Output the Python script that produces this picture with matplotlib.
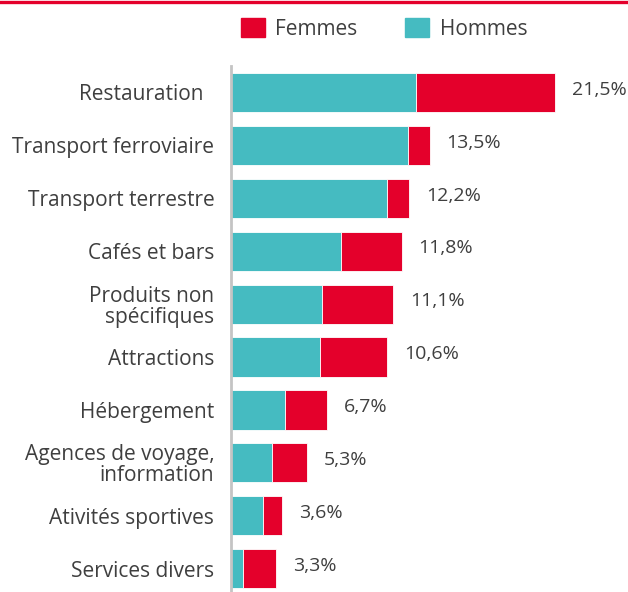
import matplotlib.pyplot as plt
from matplotlib.patches import Patch
from matplotlib.lines import Line2D

# data
categories = ["Restauration  ", "Transport ferroviaire", "Transport terrestre",
              "Cafés et bars", "Produits non\nspécifiques", "Attractions",
              "Hébergement", "Agences de voyage,\ninformation",
              "Ativités sportives", "Services divers"]
hommes = [12.7, 12.1, 10.7, 7.5, 6.2, 6.1, 3.7, 2.8, 2.2, 0.8]
femmes = [9.5, 1.5, 1.5, 4.2, 4.9, 4.6, 2.9, 2.4, 1.3, 2.3]
totals = ["21,5%", "13,5%", "12,2%", "11,8%", "11,1%", "10,6%",
          "6,7%", "5,3%", "3,6%", "3,3%"]

teal = "#45BBC1"
red = "#E4002B"
txt = "#3f3f3f"

plt.rcParams['font.family'] = ['Open Sans', 'DejaVu Sans']

fig = plt.figure(figsize=(6.28, 5.92), dpi=100)
ax = fig.add_axes([231 / 628, 0, 397 / 628, 526 / 592])

y = list(range(len(categories)))
ax.barh(y, hommes, height=0.74, color=teal, edgecolor="white", linewidth=0.6)
ax.barh(y, femmes, left=hommes, height=0.74, color=red, edgecolor="white", linewidth=0.6)

for i in y:
    ax.annotate(totals[i], (hommes[i] + femmes[i], i), xytext=(12, 2),
                textcoords="offset points", va="center", ha="left",
                fontsize=14, color=txt)

ax.set_xlim(0, 397 / 14.6)
ax.set_ylim(9.44, -0.5)
ax.set_yticks(y)
ax.set_yticklabels(categories, fontsize=15, color=txt, linespacing=1.0)
ax.tick_params(axis="y", length=0, pad=12)
ax.set_xticks([])
for s in ["top", "right", "bottom"]:
    ax.spines[s].set_visible(False)
ax.spines["left"].set_color("#c4c4c4")
ax.spines["left"].set_linewidth(2)

# red rule at the top of the figure
fig.add_artist(Line2D([0, 1], [1 - 1.5 / 592, 1 - 1.5 / 592], color=red, linewidth=2.4))

handles = [Patch(color=red, label="Femmes"), Patch(color=teal, label="Hommes")]
fig.legend(handles=handles, loc="center left", bbox_to_anchor=(222 / 628, 1 - 29 / 592),
           ncol=2, frameon=False, fontsize=15, handlelength=1.15, handleheight=1.05,
           handletextpad=0.5, columnspacing=2.3, labelcolor=txt)

fig.savefig("out.png", dpi=100)
